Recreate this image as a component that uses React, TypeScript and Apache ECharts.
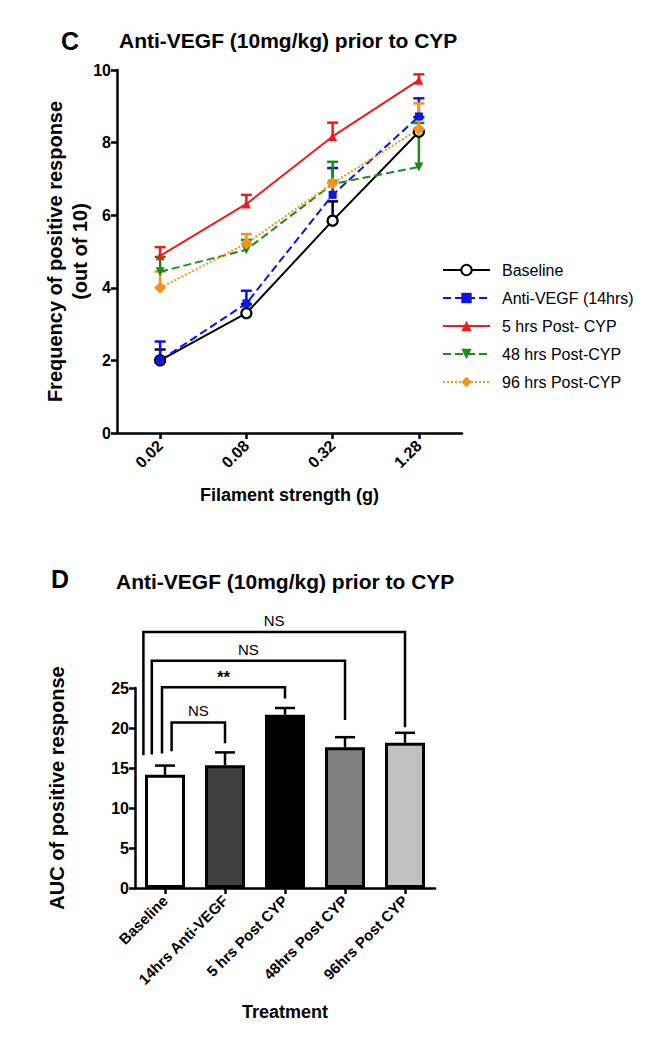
import React, { useEffect, useRef } from "react";
import * as echarts from "echarts";

// ---------- Panel C data ----------
const filamentLabels = ["0.02", "0.08", "0.32", "1.28"];
const baselineMean = [2.0, 3.3, 5.85, 8.3];
const baselineUpper = [2.3, 3.55, 6.38, 8.7];
const antiVegfMean = [2.0, 3.57, 6.56, 8.72];
const antiVegfUpper = [2.52, 3.92, 7.3, 9.22];
const post5Mean = [4.88, 6.31, 8.17, 9.72];
const post5Upper = [5.12, 6.56, 8.55, 9.88];
const post48Mean = [4.44, 5.05, 6.86, 7.33];
const post48Upper = [4.85, 5.32, 7.47, 8.54];
const post96Mean = [4.0, 5.22, 6.88, 8.37];
const post96Upper = [4.45, 5.48, 6.92, 9.08];

// ---------- Panel D data ----------
const treatmentLabels = ["Baseline", "14hrs Anti-VEGF", "5 hrs Post CYP", "48hrs Post CYP", "96hrs Post CYP"];
const aucMean = [14.15, 15.35, 21.65, 17.6, 18.15];
const aucUpper = [15.3, 16.95, 22.5, 18.85, 19.4];
const barFills = ["#ffffff", "#404040", "#000000", "#808080", "#c0c0c0"];
// brackets: from, to, bracket height, left leg bottom, right leg bottom, left offset (fraction of band), label
const bracketFrom = [0, 0, 0, 0];
const bracketTo = [1, 2, 3, 4];
const bracketHeight = [20.7, 25.1, 28.4, 32.0];
const bracketLeftBottom = [17.1, 16.8, 16.7, 16.6];
const bracketRightBottom = [18.1, 23.7, 21.0, 20.1];
const bracketLeftOffset = [0.11, -0.05, -0.22, -0.36];
const bracketLabels = ["NS", "**", "NS", "NS"];

const FONT = "Liberation Sans, Arial, Helvetica, sans-serif";

const seriesDefs = [
  { name: "Baseline", mean: baselineMean, upper: baselineUpper, color: "#000000", type: "solid", symbol: "circle", size: 10, fill: "#ffffff" },
  { name: "Anti-VEGF (14hrs)", mean: antiVegfMean, upper: antiVegfUpper, color: "#0a14e8", type: "dashed", symbol: "rect", size: 8, fill: "#0a14e8" },
  { name: "5 hrs Post- CYP", mean: post5Mean, upper: post5Upper, color: "#ee1c1c", type: "solid", symbol: "triangle", size: 9, fill: "#ee1c1c" },
  { name: "48 hrs Post-CYP", mean: post48Mean, upper: post48Upper, color: "#1e8a1e", type: "dashed", symbol: "triangle", size: 9, fill: "#1e8a1e", rotate: 180 },
  { name: "96 hrs Post-CYP", mean: post96Mean, upper: post96Upper, color: "#f7931e", type: "dotted", symbol: "diamond", size: 12, fill: "#f7931e" },
];

export default function App() {
  const ref = useRef<HTMLDivElement>(null);
  useEffect(() => {
    if (!ref.current) return;
    const chart = echarts.init(ref.current, null, { renderer: "svg" });

    const axisLine = { show: true, lineStyle: { color: "#000", width: 2.5 } };
    const axisTick = { show: true, inside: false, length: 6, lineStyle: { color: "#000", width: 2.5 } };
    const tickLabel = { color: "#000", fontWeight: "bold", fontSize: 16, fontFamily: FONT };
    const titleStyle = { fontWeight: "bold", color: "#000", fontFamily: FONT };

    const lineSeries: any[] = [];
    const errSeries: any[] = [];
    seriesDefs.forEach((s) => {
      errSeries.push({
        type: "custom",
        xAxisIndex: 0,
        yAxisIndex: 0,
        silent: true,
        z: 2,
        encode: { x: 0, y: 1 },
        data: s.mean.map((m, i) => [i, m, s.upper[i]]),
        renderItem: (params: any, api: any) => {
          const p0 = api.coord([api.value(0), api.value(1)]);
          const p1 = api.coord([api.value(0), api.value(2)]);
          const st = { stroke: s.color, lineWidth: 2.5 };
          return {
            type: "group",
            children: [
              { type: "line", shape: { x1: p0[0], y1: p0[1], x2: p1[0], y2: p1[1] }, style: st },
              { type: "line", shape: { x1: p1[0] - 5.5, y1: p1[1], x2: p1[0] + 5.5, y2: p1[1] }, style: st },
            ],
          };
        },
      });
      lineSeries.push({
        name: s.name,
        type: "line",
        xAxisIndex: 0,
        yAxisIndex: 0,
        z: 3,
        data: s.mean,
        symbol: s.symbol,
        symbolSize: s.size,
        symbolRotate: s.rotate || 0,
        showAllSymbol: true,
        lineStyle: { color: s.color, width: 2, type: s.type },
        itemStyle: { color: s.fill, borderColor: s.color, borderWidth: s.name === "Baseline" ? 2.2 : 0 },
      });
    });

    const barErr = {
      type: "custom",
      xAxisIndex: 1,
      yAxisIndex: 1,
      silent: true,
      z: 3,
      encode: { x: 0, y: 1 },
      data: aucMean.map((m, i) => [i, m, aucUpper[i]]),
      renderItem: (params: any, api: any) => {
        const p0 = api.coord([api.value(0), api.value(1)]);
        const p1 = api.coord([api.value(0), api.value(2)]);
        const st = { stroke: "#000", lineWidth: 2.5 };
        return {
          type: "group",
          children: [
            { type: "line", shape: { x1: p0[0], y1: p0[1], x2: p1[0], y2: p1[1] }, style: st },
            { type: "line", shape: { x1: p1[0] - 10, y1: p1[1], x2: p1[0] + 10, y2: p1[1] }, style: st },
          ],
        };
      },
    };

    const brackets = {
      type: "custom",
      xAxisIndex: 1,
      yAxisIndex: 1,
      silent: true,
      clip: false,
      z: 4,
      encode: { x: 0, y: 2 },
      data: bracketFrom.map((f, i) => [f, bracketTo[i], bracketHeight[i], bracketLeftBottom[i], bracketRightBottom[i], bracketLeftOffset[i], i]),
      renderItem: (params: any, api: any) => {
        const band = api.size([1, 0])[0];
        const from = api.value(0), to = api.value(1), h = api.value(2);
        const lb = api.value(3), rb = api.value(4), off = api.value(5);
        const idx = api.value(6);
        const top = api.coord([from, h]);
        const lx = top[0] + off * band;
        const ly = api.coord([from, lb])[1];
        const rx = api.coord([to, h])[0];
        const ry = api.coord([to, rb])[1];
        const isStar = bracketLabels[idx] === "**";
        return {
          type: "group",
          children: [
            {
              type: "polyline",
              shape: { points: [[lx, ly], [lx, top[1]], [rx, top[1]], [rx, ry]] },
              style: { stroke: "#000", lineWidth: 2.5, fill: null },
            },
            {
              type: "text",
              x: (lx + rx) / 2,
              y: top[1] - (isStar ? 1 : 4),
              style: { text: bracketLabels[idx], fill: "#000", fontSize: isStar ? 17 : 15, fontWeight: isStar ? "bold" : "normal", fontFamily: FONT, align: "center", verticalAlign: "bottom" },
            },
          ],
        };
      },
    };

    chart.setOption({
      animation: false,
      backgroundColor: "#ffffff",
      title: [
        { text: "C", left: 56, top: 23, textStyle: { ...titleStyle, fontSize: 25 } },
        { text: "Anti-VEGF (10mg/kg) prior to CYP", left: 114, top: 25, textStyle: { ...titleStyle, fontSize: 21 } },
        { text: "D", left: 46, top: 561, textStyle: { ...titleStyle, fontSize: 25 } },
        { text: "Anti-VEGF (10mg/kg) prior to CYP", left: 111, top: 566, textStyle: { ...titleStyle, fontSize: 21 } },
      ],
      legend: {
        data: seriesDefs.map((s) => s.name),
        orient: "vertical",
        left: 437,
        top: 257,
        itemWidth: 47,
        itemHeight: 13,
        itemGap: 12,
        textStyle: { fontSize: 16, color: "#000", fontFamily: FONT, padding: [0, 0, 0, 7] },
        selectedMode: false,
      },
      grid: [
        { left: 117, top: 70, width: 345, height: 363 },
        { left: 135, top: 688, width: 300, height: 200 },
      ],
      xAxis: [
        {
          type: "category",
          gridIndex: 0,
          data: filamentLabels,
          boundaryGap: true,
          axisLine,
          axisTick: { ...axisTick, alignWithLabel: true },
          axisLabel: { ...tickLabel, rotate: 45, margin: 10 },
          name: "Filament strength (g)",
          nameLocation: "middle",
          nameGap: 53,
          nameMoveOverlap: false,
          nameTextStyle: { ...titleStyle, fontSize: 18 },
        },
        {
          type: "category",
          gridIndex: 1,
          data: treatmentLabels,
          boundaryGap: true,
          axisLine,
          axisTick: { ...axisTick, alignWithLabel: true },
          axisLabel: { ...tickLabel, fontSize: 15, rotate: 45, margin: 10, interval: 0 },
          name: "Treatment",
          nameLocation: "middle",
          nameGap: 115,
          nameMoveOverlap: false,
          nameTextStyle: { ...titleStyle, fontSize: 18 },
        },
      ],
      yAxis: [
        {
          type: "value",
          gridIndex: 0,
          min: 0,
          max: 10,
          interval: 2,
          splitLine: { show: false },
          axisLine,
          axisTick,
          axisLabel: { ...tickLabel, margin: 6 },
          name: "Frequency of positive response\n(out of 10)",
          nameLocation: "middle",
          nameGap: 25,
          nameMoveOverlap: false,
          nameTextStyle: { ...titleStyle, fontSize: 20, lineHeight: 25 },
        },
        {
          type: "value",
          gridIndex: 1,
          min: 0,
          max: 25,
          interval: 5,
          splitLine: { show: false },
          axisLine,
          axisTick,
          axisLabel: { ...tickLabel, margin: 6 },
          name: "AUC of positive response",
          nameLocation: "middle",
          nameGap: 68,
          nameMoveOverlap: false,
          nameTextStyle: { ...titleStyle, fontSize: 20 },
        },
      ],
      series: [
        ...errSeries,
        ...lineSeries,
        {
          type: "bar",
          xAxisIndex: 1,
          yAxisIndex: 1,
          barWidth: 40,
          z: 2,
          data: aucMean.map((v, i) => ({ value: v, itemStyle: { color: barFills[i] } })),
          itemStyle: { borderColor: "#000", borderWidth: 3 },
        },
        barErr,
        brackets,
      ],
    });
    return () => chart.dispose();
  }, []);
  return <div ref={ref} style={{ position: "fixed", left: 0, top: 0, width: 645, height: 1050, background: "#fff" }} />;
}
